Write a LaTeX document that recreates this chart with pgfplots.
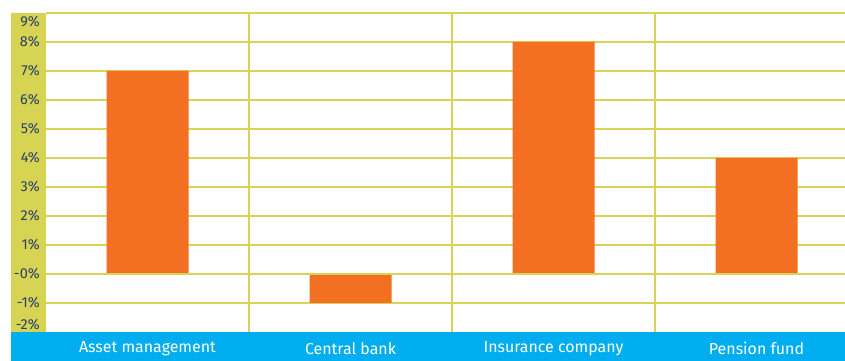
\documentclass[border=0pt]{standalone}
\usepackage{pgfplots}
\pgfplotsset{compat=1.18}
\usepackage{fontspec}
\setmainfont{Fira Sans}
\definecolor{band}{HTML}{D6D452}
\definecolor{gridc}{HTML}{DAD256}
\definecolor{barc}{HTML}{F36F21}
\definecolor{bluec}{HTML}{00AEEF}
\definecolor{labc}{HTML}{2A3F6B}
\begin{document}
\begin{tikzpicture}
\path[use as bounding box] (-46bp,-29bp) rectangle (799bp,332bp);
\fill[band] (-35bp,0bp) rectangle (0bp,319bp);
\fill[bluec] (-35bp,-29bp) rectangle (799bp,0bp);
\begin{axis}[at={(0,0)}, anchor=south west, scale only axis,
  width=799bp, height=319bp,
  xmin=-0.5, xmax=3.436, ymin=-2, ymax=9,
  axis line style={draw=none},
  major tick length=0pt, minor tick length=0pt,
  xtick={0,1,2,3},
  xticklabels={Asset management, Central bank, Insurance company, Pension fund},
  minor xtick={0.5,1.5,2.5},
  xminorgrids=true,
  ytick={-1,0,1,2,3,4,5,6,7,8,9},
  yticklabels={-1\%,-0\%,1\%,2\%,3\%,4\%,5\%,6\%,7\%,8\%,},
  ymajorgrids=true,
  grid style={draw=gridc, line width=1.2bp},
  minor grid style={draw=gridc, line width=1.2bp},
  xticklabel style={anchor=center, inner sep=0pt, yshift=-16.5bp, text=white,
    font=\fontsize{16}{18}\selectfont},
  yticklabel style={anchor=east, inner sep=0pt, xshift=-6bp, text=labc,
    font=\fontsize{14.5}{16}\selectfont},
  clip=false,
]
\addplot[ybar, bar width=82bp, bar shift=0pt, fill=barc, draw=none]
  coordinates {(0,7) (1,-1) (2,8) (3,4)};
\draw[gridc, line width=2.6bp] (axis cs:-0.5,0) -- (axis cs:3.436,0);
\node[anchor=east, inner sep=0pt, text=labc, font=\fontsize{14.5}{16}\selectfont]
  at ([xshift=-6bp,yshift=-8.7bp]rel axis cs:0,1) {9\%};
\node[anchor=east, inner sep=0pt, text=labc, font=\fontsize{14.5}{16}\selectfont]
  at ([xshift=-6bp,yshift=7bp]rel axis cs:0,0) {-2\%};
\end{axis}
\end{tikzpicture}
\end{document}
